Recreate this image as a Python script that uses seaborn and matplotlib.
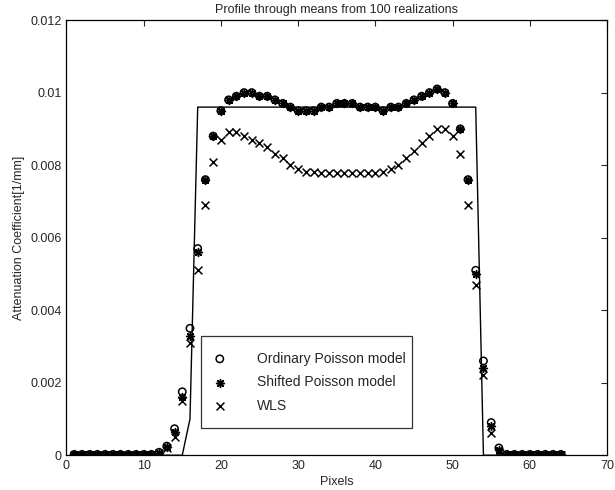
import numpy as np
import pandas as pd
import seaborn as sns
import matplotlib
matplotlib.use("Agg")
import matplotlib.pyplot as plt

sns.set_style("white")
plt.rcParams['font.family'] = ['Liberation Sans', 'DejaVu Sans']

# pixel positions
pixels = list(range(1, 65))

# Ordinary Poisson model
ordinary = [0.00002] * 11 + [
    0.00008, 0.00025, 0.00073, 0.00175, 0.0035, 0.0057, 0.0076, 0.0088,
    0.0095, 0.0098, 0.0099, 0.0100, 0.0100, 0.0099, 0.0099, 0.0098,
    0.0097, 0.0096, 0.0095, 0.0095, 0.0095, 0.0096, 0.0096, 0.0097,
    0.0097, 0.0097, 0.0096, 0.0096, 0.0096, 0.0095, 0.0096, 0.0096,
    0.0097, 0.0098, 0.0099, 0.0100, 0.0101, 0.0100, 0.0097, 0.0090,
    0.0076, 0.0051, 0.0026, 0.0009, 0.0002] + [0.00002] * 8

# Shifted Poisson model
shifted = [0.00002] * 11 + [
    0.00007, 0.00022, 0.00065, 0.0016, 0.0033, 0.0056, 0.0076, 0.0088,
    0.0095, 0.0098, 0.0099, 0.0100, 0.0100, 0.0099, 0.0099, 0.0098,
    0.0097, 0.0096, 0.0095, 0.0095, 0.0095, 0.0096, 0.0096, 0.0097,
    0.0097, 0.0097, 0.0096, 0.0096, 0.0096, 0.0095, 0.0096, 0.0096,
    0.0097, 0.0098, 0.0099, 0.0100, 0.0101, 0.0100, 0.0097, 0.0090,
    0.0076, 0.0050, 0.0024, 0.0008, 0.00015] + [0.00002] * 8

# WLS
wls = [0.00001] * 11 + [
    0.00005, 0.0002, 0.0005, 0.0015, 0.0031, 0.0051, 0.0069, 0.0081,
    0.0087, 0.0089, 0.0089, 0.0088, 0.0087, 0.0086, 0.0085, 0.0083,
    0.0082, 0.0080, 0.0079, 0.0078, 0.0078, 0.00778, 0.00778, 0.00778,
    0.00778, 0.00778, 0.00778, 0.00778, 0.00778, 0.0078, 0.0079, 0.0080,
    0.0082, 0.0084, 0.0086, 0.0088, 0.0090, 0.0090, 0.0088, 0.0083,
    0.0069, 0.0047, 0.0022, 0.0006, 0.0001] + [0.00001] * 8

# true profile (phantom)
phantom_x = [1, 15, 16, 17, 53, 54, 64]
phantom_y = [0, 0, 0.001, 0.0096, 0.0096, 0, 0]

yticks = [0, 0.002, 0.004, 0.006, 0.008, 0.010, 0.012]
ytick_labels = ['0', '0.002', '0.004', '0.006', '0.008', '0.01', '0.012']
xticks = [0, 10, 20, 30, 40, 50, 60, 70]

df = pd.DataFrame({'pixel': pixels, 'ordinary': ordinary,
                   'shifted': shifted, 'wls': wls})
phantom = pd.DataFrame({'pixel': phantom_x, 'value': phantom_y})

fig = plt.figure(figsize=(6.15, 4.9), dpi=100)
ax = fig.add_axes([0.108, 0.071, 0.879, 0.888])

sns.lineplot(data=phantom, x='pixel', y='value', color='black',
             linewidth=1.0, ax=ax, legend=False)

sns.scatterplot(data=df, x='pixel', y='ordinary', marker='o', s=28,
                facecolors='none', edgecolor='black', linewidth=1.1,
                label='Ordinary Poisson model', ax=ax)
sns.scatterplot(data=df, x='pixel', y='shifted', marker=(8, 2, 0), s=32,
                color='black', linewidth=1.1,
                label='Shifted Poisson model', ax=ax)
sns.scatterplot(data=df, x='pixel', y='wls', marker='x', s=32,
                color='black', linewidth=1.1, label='WLS', ax=ax)

ax.set_xlim(0, 70)
ax.set_ylim(0, 0.012)
ax.set_xticks(xticks)
ax.set_yticks(yticks)
ax.set_yticklabels(ytick_labels)
ax.tick_params(direction='in', length=4, top=True, right=True,
               labelsize=9, width=0.8)
for s in ax.spines.values():
    s.set_color('black')
    s.set_linewidth(0.9)

ax.set_xlabel('Pixels', fontsize=9, labelpad=3)
ax.set_ylabel('Attenuation Coefficient[1/mm]', fontsize=9, labelpad=4)
ax.set_title('Profile through means from 100 realizations', fontsize=9, pad=5)

leg = ax.legend(loc='lower left', bbox_to_anchor=(0.249, 0.062, 0.39, 0.214),
                mode='expand', borderaxespad=0, fancybox=False, frameon=True,
                edgecolor='black', fontsize=10, handletextpad=2.4,
                borderpad=1.1, labelspacing=0.7, handlelength=0.5)
leg.get_frame().set_linewidth(0.9)

fig.savefig('out.png', dpi=100)
